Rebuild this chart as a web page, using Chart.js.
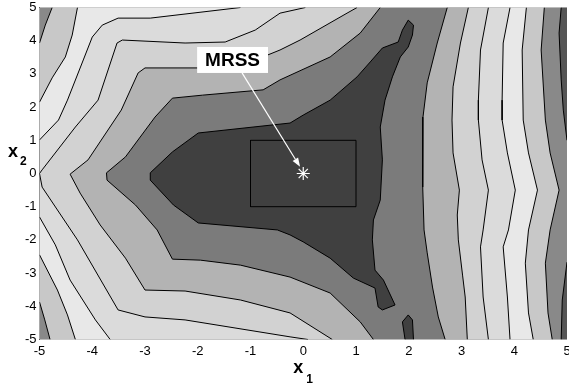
<!DOCTYPE html>
<html>
<head>
<meta charset="utf-8">
<script src="https://cdn.jsdelivr.net/npm/chart.js@4.4.0/dist/chart.umd.min.js"></script>
<style>
    html, body { margin: 0; padding: 0; background: #fff; }
</style>
</head>
<body>
<canvas id="contour-chart" width="569" height="383"></canvas>
<script>
// contour paths in (x1, x2) units
const c1Dark = [[-2.90, 0.02], [-2.48, 0.65], [-1.99, 1.22], [-0.25, 1.52], [0.0, 1.76], [0.51, 2.21], [1.02, 2.91],
    [1.27, 3.36], [1.50, 3.78], [1.80, 3.96], [1.88, 4.32], [1.99, 4.62], [2.09, 4.47], [2.07, 4.17], [1.99, 3.81],
    [1.84, 3.51], [1.69, 2.91], [1.55, 2.21], [1.46, 1.40], [1.50, 0.41], [1.46, -0.80], [1.33, -1.40], [1.31, -2.0],
    [1.36, -2.91], [1.52, -3.21], [1.74, -3.96], [1.50, -4.11], [1.42, -4.02], [1.36, -3.45], [0.95, -3.15],
    [0.51, -2.55], [0.0, -2.06], [-0.25, -1.85], [-0.49, -1.70], [-1.99, -1.49], [-2.46, -0.95], [-2.90, -0.20]];
const c1Island = [[1.93, -5], [1.88, -4.47], [1.99, -4.26], [2.07, -4.41], [2.09, -5]];

const c2Left = [[1.46, 5], [1.08, 4.23], [0.51, 3.51], [-0.44, 2.82], [-0.76, 2.52], [-1.91, 2.36], [-2.48, 2.27],
    [-2.81, 1.70], [-3.37, 0.50], [-3.73, 0.02], [-3.72, -0.20], [-3.18, -0.95], [-2.77, -1.70], [-2.48, -2.58],
    [-1.95, -2.61], [-1.19, -2.76], [-0.25, -3.12], [0.51, -3.60], [1.08, -4.47], [1.33, -5]];
const c3Left = [[1.02, 5], [0.83, 4.83], [-0.06, 4.02], [-0.44, 3.72], [-1.0, 3.36], [-1.95, 3.18], [-3.0, 3.18],
    [-3.13, 3.03], [-3.45, 1.91], [-4.08, 0.41], [-4.42, -0.02], [-4.23, -0.59], [-3.85, -1.55], [-3.37, -2.55],
    [-3.0, -3.51], [-2.24, -3.54], [-1.19, -3.81], [-0.25, -4.20], [0.55, -5]];
const c4Left = [[0.04, 5], [-0.44, 4.83], [-0.91, 4.32], [-1.48, 3.96], [-2.24, 3.93], [-3.43, 4.02], [-3.53, 3.93],
    [-3.89, 2.21], [-4.32, 1.40], [-4.95, 0.11], [-5, 0], [-4.95, -0.41], [-4.28, -2.0], [-3.51, -4.11],
    [-3.0, -4.32], [-2.24, -4.41], [-0.25, -4.92], [0.09, -5]];
const c5UpperLeft = [[-5, 1.01], [-4.64, 1.61], [-4.47, 2.21], [-4.17, 3.42], [-4.0, 4.11], [-3.81, 4.47],
    [-3.51, 4.68], [-2.90, 4.68], [-1.19, 5]];
const c5LowerLeft = [[-5, -1.31], [-4.70, -2.15], [-4.42, -3.21], [-3.94, -4.41], [-3.66, -5]];
const c6UpperLeft = [[-5, 2.15], [-4.76, 2.88], [-4.51, 3.51], [-4.38, 4.17], [-4.28, 5]];
const c6LowerLeft = [[-5, -2.45], [-4.66, -3.51], [-4.47, -4.26], [-4.32, -5]];
const c7UpperLeft = [[-5, 3.93], [-4.89, 4.47], [-4.76, 5]];
const c7LowerLeft = [[-5, -3.87], [-4.90, -4.41], [-4.80, -5]];

const c2Right = [[2.73, 5], [2.54, 3.93], [2.35, 2.73], [2.27, 1.70], [2.26, 0.71], [2.27, -0.41], [2.29, -1.70],
    [2.35, -2.39], [2.45, -3.42], [2.56, -4.32], [2.69, -5]];
const c3Right = [[3.13, 5], [2.98, 3.93], [2.84, 2.61], [2.82, 1.61], [2.84, 0.62], [2.96, -0.50], [2.92, -1.25],
    [2.94, -2.0], [3.02, -3.06], [3.07, -3.72], [3.11, -5]];
const c4Right = [[3.51, 5], [3.36, 3.72], [3.32, 2.21], [3.32, 1.61], [3.39, 0.41], [3.51, -0.50], [3.41, -1.70],
    [3.36, -2.21], [3.41, -3.72], [3.51, -5]];
const c5Right = [[3.92, 5], [3.79, 3.93], [3.77, 2.21], [3.77, 1.61], [3.87, 0.62], [4.02, -0.50], [3.89, -1.70],
    [3.79, -2.21], [3.87, -3.72], [3.92, -5]];
const c6Right = [[4.23, 5], [4.15, 3.72], [4.17, 1.61], [4.27, 0.62], [4.44, -0.50], [4.27, -1.70], [4.21, -2.70],
    [4.27, -4.20], [4.36, -5]];
const c7Right = [[4.57, 5], [4.51, 3.72], [4.59, 1.61], [4.68, 0.62], [4.85, -0.50], [4.68, -1.70], [4.59, -2.70],
    [4.64, -4.20], [4.72, -5]];
const c8TopRight = [[4.89, 5], [4.85, 4.23], [4.89, 2.82], [4.93, 1.91], [5, 1.0]];
const c8BottomRight = [[5, -2.67], [4.91, -3.81], [4.89, -5]];

// grey level of each band, darkest (inside c1) outwards
const bandColors = ['#404040', '#7b7b7b', '#b3b3b3', '#d2d2d2', '#dbdbdb', '#e8e8e8', '#c8c8c8', '#898989', '#555555'];

const axisMin = -5;
const axisMax = 5;
const boxCorners = [[-1, -1], [1, -1], [1, 1], [-1, 1], [-1, -1]];
const optimum = [0, 0];
const mrssLabel = { text: 'MRSS', x: -1.34, y: 3.42 };
const mrssArrow = { from: [-1.16, 3.03], to: [-0.06, 0.2] };

const FONT = "'Liberation Sans', Arial, Helvetica, sans-serif";

const leftCorners = [[axisMin, axisMin], [axisMin, axisMax]];
const rightCorners = [[axisMax, axisMin], [axisMax, axisMax]];

// regions above each level, painted from the lowest level up
const regions = [
    [c2Left, 2, leftCorners], [c2Right, 2, rightCorners],
    [c3Left, 3, leftCorners], [c3Right, 3, rightCorners],
    [c4Left, 4, leftCorners], [c4Right, 4, rightCorners],
    [c5UpperLeft, 5, [[axisMin, axisMax]]], [c5LowerLeft, 5, [[axisMin, axisMin]]], [c5Right, 5, rightCorners],
    [c6UpperLeft, 6, [[axisMin, axisMax]]], [c6LowerLeft, 6, [[axisMin, axisMin]]], [c6Right, 6, rightCorners],
    [c7UpperLeft, 7, [[axisMin, axisMax]]], [c7LowerLeft, 7, [[axisMin, axisMin]]], [c7Right, 7, rightCorners],
    [c8TopRight, 8, [[axisMax, axisMax]]], [c8BottomRight, 8, [[axisMax, axisMin]]],
    [c1Dark, 0, []], [c1Island, 0, []]
];

const contourLines = [c1Dark.concat([c1Dark[0]]), c1Island, c2Left, c2Right, c3Left, c3Right, c4Left, c4Right,
    c5UpperLeft, c5LowerLeft, c5Right, c6UpperLeft, c6LowerLeft, c6Right, c7UpperLeft, c7LowerLeft, c7Right,
    c8TopRight, c8BottomRight];

const toPoints = (path) => path.map(p => ({ x: p[0], y: p[1] }));

function buildDatasets() {
    const layers = [];

    regions.forEach(([path, level, corners]) => {
        layers.push({
            data: toPoints(path.concat(corners)),
            fill: 'shape',
            backgroundColor: bandColors[level],
            borderColor: 'rgba(0,0,0,0)',
            borderWidth: 0,
            pointRadius: 0
        });
    });

    contourLines.forEach(path => {
        layers.push({
            data: toPoints(path),
            fill: false,
            borderColor: '#000',
            borderWidth: 1,
            pointRadius: 0
        });
    });

    layers.push({
        data: toPoints(boxCorners),
        fill: false,
        borderColor: '#000',
        borderWidth: 1,
        pointRadius: 0
    });

    layers.push({
        data: toPoints([optimum]),
        showLine: false,
        pointStyle: 'star',
        pointRadius: 6.5,
        pointBorderColor: '#fff',
        pointBorderWidth: 1.2,
        pointBackgroundColor: '#fff'
    });

    return layers.map((d, i) => ({ ...d, order: layers.length - i }));
}

const annotations = {
    id: 'annotations',
    beforeDatasetsDraw(chart) {
        const { ctx, chartArea: a } = chart;
        ctx.save();
        ctx.fillStyle = bandColors[1];
        ctx.fillRect(a.left, a.top, a.right - a.left, a.bottom - a.top);
        ctx.restore();
    },
    afterDatasetsDraw(chart) {
        const { ctx } = chart;
        const sx = chart.scales.x;
        const sy = chart.scales.y;

        // arrow from the label to the optimum
        const x0 = sx.getPixelForValue(mrssArrow.from[0]);
        const y0 = sy.getPixelForValue(mrssArrow.from[1]);
        const x1 = sx.getPixelForValue(mrssArrow.to[0]);
        const y1 = sy.getPixelForValue(mrssArrow.to[1]);
        const ang = Math.atan2(y1 - y0, x1 - x0);
        const headLen = 9;
        const headHalf = 3.2;

        ctx.save();
        ctx.strokeStyle = '#fff';
        ctx.fillStyle = '#fff';
        ctx.lineWidth = 1.2;
        ctx.beginPath();
        ctx.moveTo(x0, y0);
        ctx.lineTo(x1 - headLen * Math.cos(ang), y1 - headLen * Math.sin(ang));
        ctx.stroke();
        ctx.beginPath();
        ctx.moveTo(x1, y1);
        ctx.lineTo(x1 - headLen * Math.cos(ang) + headHalf * Math.sin(ang), y1 - headLen * Math.sin(ang) - headHalf * Math.cos(ang));
        ctx.lineTo(x1 - headLen * Math.cos(ang) - headHalf * Math.sin(ang), y1 - headLen * Math.sin(ang) + headHalf * Math.cos(ang));
        ctx.closePath();
        ctx.fill();

        // label box
        const cx = sx.getPixelForValue(mrssLabel.x);
        const cy = sy.getPixelForValue(mrssLabel.y);
        ctx.font = 'bold 19px ' + FONT;
        const w = ctx.measureText(mrssLabel.text).width + 16;
        const h = 26;
        ctx.fillStyle = '#fff';
        ctx.fillRect(cx - w / 2, cy - h / 2, w, h);
        ctx.fillStyle = '#000';
        ctx.textAlign = 'center';
        ctx.textBaseline = 'middle';
        ctx.fillText(mrssLabel.text, cx, cy + 1);
        ctx.restore();
    },
    afterDraw(chart) {
        const { ctx, chartArea: a } = chart;
        const midX = (a.left + a.right) / 2;
        const midY = (a.top + a.bottom) / 2;

        ctx.save();
        ctx.fillStyle = '#000';
        ctx.textAlign = 'left';
        ctx.textBaseline = 'alphabetic';

        ctx.font = 'bold 18px ' + FONT;
        ctx.fillText('x', midX - 10, a.bottom + 33);
        ctx.font = 'bold 12px ' + FONT;
        ctx.fillText('1', midX + 3, a.bottom + 43);

        ctx.font = 'bold 18px ' + FONT;
        ctx.fillText('x', 8, midY - 16.5);
        ctx.font = 'bold 12px ' + FONT;
        ctx.fillText('2', 20, midY - 8.5);
        ctx.restore();
    }
};

function renderContourChart() {
    const ctx = document.getElementById('contour-chart');

    new Chart(ctx, {
        type: 'line',
        data: {
            datasets: buildDatasets()
        },
        options: {
            responsive: false,
            animation: false,
            events: [],
            layout: {
                autoPadding: false,
                padding: { top: 7.5, right: 2, left: 0, bottom: 0 }
            },
            plugins: {
                legend: { display: false },
                tooltip: { enabled: false }
            },
            scales: {
                x: {
                    type: 'linear',
                    min: axisMin,
                    max: axisMax,
                    ticks: {
                        stepSize: 1,
                        color: '#000',
                        padding: 4,
                        maxRotation: 0,
                        autoSkip: false,
                        font: { family: FONT, size: 13 }
                    },
                    grid: { display: false, drawTicks: false },
                    border: { display: false },
                    afterFit: (scale) => {
                        scale.height = 43.5;
                        scale.paddingLeft = 0;
                        scale.paddingRight = 0;
                    }
                },
                y: {
                    type: 'linear',
                    min: axisMin,
                    max: axisMax,
                    z: 1,
                    ticks: {
                        stepSize: 1,
                        color: '#000',
                        padding: 3,
                        font: { family: FONT, size: 13 }
                    },
                    grid: { display: false, drawTicks: false },
                    border: { display: true, color: '#222', width: 1 },
                    afterFit: (scale) => {
                        scale.width = 39.5;
                        scale.paddingTop = 0;
                        scale.paddingBottom = 0;
                    }
                }
            }
        },
        plugins: [annotations]
    });
}

document.addEventListener('DOMContentLoaded', () => {
    renderContourChart();
});
</script>
</body>
</html>
